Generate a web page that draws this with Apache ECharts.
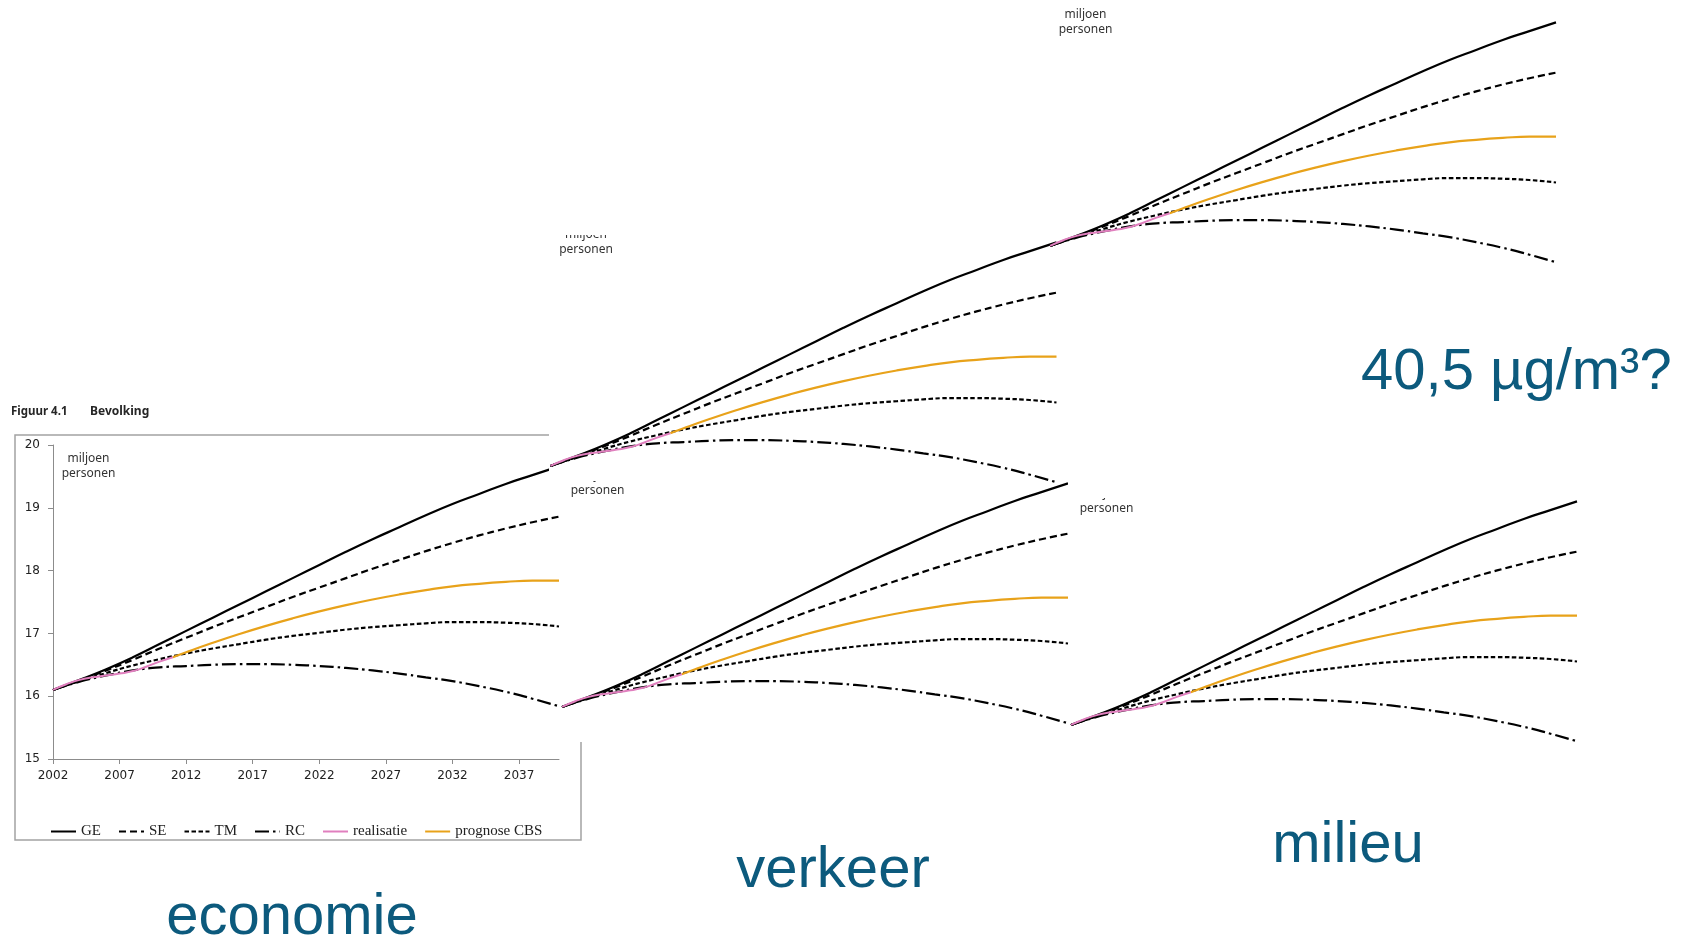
<!DOCTYPE html>
<html>
<head>
<meta charset="utf-8">
<script src="https://cdn.jsdelivr.net/npm/echarts@6/dist/echarts.min.js"></script>
<style>
  html, body { margin: 0; padding: 0; background: #fff; }
  #chart { width: 1689px; height: 939px; }
</style>
</head>
<body>
<div id="chart"></div>
<script>
// Bevolking: scenario's GE, SE, TM, RC plus realisatie en CBS-prognose (miljoen personen)
const scenarioYears = [2002, 2004, 2006, 2008, 2010, 2012, 2014, 2016, 2018, 2020,
                       2022, 2024, 2026, 2028, 2030, 2032, 2034, 2036, 2038, 2040];
const geValues = [16.10, 16.26, 16.43, 16.62, 16.83, 17.04, 17.25, 17.46, 17.67, 17.88,
                  18.09, 18.30, 18.50, 18.69, 18.88, 19.06, 19.22, 19.38, 19.52, 19.66];
const seValues = [16.10, 16.25, 16.41, 16.58, 16.76, 16.93, 17.10, 17.26, 17.42, 17.58,
                  17.73, 17.88, 18.03, 18.17, 18.31, 18.44, 18.56, 18.67, 18.77, 18.86];
const tmValues = [16.10, 16.24, 16.37, 16.49, 16.59, 16.68, 16.76, 16.83, 16.90, 16.96,
                  17.01, 17.06, 17.10, 17.13, 17.16, 17.18, 17.18, 17.17, 17.15, 17.11];
const rcValues = [16.10, 16.23, 16.33, 16.41, 16.46, 16.48, 16.50, 16.51, 16.51, 16.50,
                  16.48, 16.45, 16.41, 16.36, 16.30, 16.24, 16.16, 16.07, 15.96, 15.84];
const realisatieYears = [2002, 2003, 2004, 2005, 2006, 2007, 2008, 2009, 2010, 2011];
const realisatieValues = [16.10, 16.19, 16.26, 16.30, 16.33, 16.36, 16.40, 16.47, 16.55, 16.62];
const cbsYears = [2011, 2012, 2014, 2016, 2018, 2020, 2022, 2024, 2026, 2028,
                  2030, 2032, 2034, 2036, 2038, 2040];
const cbsValues = [16.62, 16.70, 16.85, 16.99, 17.12, 17.24, 17.35, 17.45, 17.54, 17.62,
                   17.69, 17.75, 17.79, 17.82, 17.84, 17.84];
const xTickYears = [2002, 2007, 2012, 2017, 2022, 2027, 2032, 2037];
const seriesNames = ['GE', 'SE', 'TM', 'RC', 'realisatie', 'prognose CBS'];
const unitLines = ['miljoen', 'personen'];
const figureNumber = 'Figuur 4.1';
const figureTitle = 'Bevolking';
const themeLabels = ['economie', 'verkeer', 'milieu'];
const airLabel = '40,5 µg/m³?';

const pair = (xs, ys) => xs.map((x, i) => [x, ys[i]]);

// plot-area size shared by the main figure and its pasted copies
const PW = 506, PH = 314;
// panels in stacking order: main figure first, then the copies
const panels = [
  { left: 53,   top: 445,   main: true, z: 3 },
  { left: 562,  top: 462,   z: 6,  bg: { x: 561,  y: 478, w: 506, h: 264, z: 5 } },
  { left: 550.5, top: 221,  z: 9,  bg: { x: 549,  y: 235, w: 513, h: 246, z: 8 },
    crop: { x: 549, y: 200, w: 91, h: 35, z: 10 } },
  { left: 1071, top: 480,   z: 12 },
  { left: 1050, top: 1,     z: 15, bg: { x: 1068, y: 0, w: 621, h: 498, z: 13 } }
];

const lineStyles = {
  'GE':           { color: '#000', width: 2.2, type: 'solid' },
  'SE':           { color: '#000', width: 2.2, type: [7, 4] },
  'TM':           { color: '#000', width: 2.2, type: [4.5, 2.5] },
  'RC':           { color: '#000', width: 2.2, type: [14, 4, 2.5, 4] },
  'realisatie':   { color: '#e07fbe', width: 2, type: 'solid' },
  'prognose CBS': { color: '#e8a21a', width: 2.2, type: 'solid' }
};
const seriesData = {
  'GE': pair(scenarioYears, geValues),
  'SE': pair(scenarioYears, seValues),
  'TM': pair(scenarioYears, tmValues),
  'RC': pair(scenarioYears, rcValues),
  'prognose CBS': pair(cbsYears, cbsValues),
  'realisatie': pair(realisatieYears, realisatieValues)
};
const drawOrder = ['GE', 'SE', 'TM', 'RC', 'prognose CBS', 'realisatie'];

const axisGrey = '#8c8c8c';
const grids = [], xAxes = [], yAxes = [], series = [], graphics = [];

panels.forEach((p, i) => {
  grids.push({ left: p.left, top: p.top, width: PW, height: PH });
  xAxes.push({
    gridIndex: i, type: 'value', min: 2002, max: 2040, show: !!p.main,
    axisLine: { show: true, lineStyle: { color: axisGrey, width: 1 } },
    axisTick: { show: true, length: 5, customValues: xTickYears, lineStyle: { color: axisGrey } },
    axisLabel: { customValues: xTickYears, formatter: v => String(v), margin: 11,
                 fontFamily: 'DejaVu Sans', fontSize: 12, color: '#222' },
    splitLine: { show: false }
  });
  yAxes.push({
    gridIndex: i, type: 'value', min: 15, max: 20, interval: 1, show: !!p.main,
    axisLine: { show: true, lineStyle: { color: axisGrey, width: 1 } },
    axisTick: { show: true, length: 5, lineStyle: { color: axisGrey } },
    axisLabel: { margin: 13, fontFamily: 'DejaVu Sans', fontSize: 12, color: '#222' },
    splitLine: { show: false }
  });
  drawOrder.forEach(name => {
    series.push({
      type: 'line', name, xAxisIndex: i, yAxisIndex: i, z: p.z,
      data: seriesData[name], smooth: true,
      symbol: 'none', showSymbol: false,
      lineStyle: Object.assign({ cap: 'butt' }, lineStyles[name]),
      itemStyle: { color: lineStyles[name].color },
      emphasis: { disabled: true }, silent: true
    });
  });
  if (p.bg) {
    graphics.push({ type: 'rect', z: p.bg.z, silent: true,
      shape: { x: p.bg.x, y: p.bg.y, width: p.bg.w, height: p.bg.h },
      style: { fill: '#fff' } });
  }
  unitLines.forEach((t, k) => {
    graphics.push({ type: 'text', z: p.z, silent: true,
      x: p.left + 35.5, y: p.top + 14 + k * 15,
      style: { text: t, fontFamily: 'Noto Sans', fontSize: 12, fill: '#333',
               align: 'center', verticalAlign: 'middle' } });
  });
  if (p.crop) {
    graphics.push({ type: 'rect', z: p.crop.z, silent: true,
      shape: { x: p.crop.x, y: p.crop.y, width: p.crop.w, height: p.crop.h },
      style: { fill: '#fff' } });
  }
});

// frame and heading of the main figure
graphics.push({ type: 'rect', z: 0, silent: true,
  shape: { x: 15, y: 435, width: 566, height: 405 },
  style: { fill: 'none', stroke: '#a3a3a3', lineWidth: 1.5 } });
graphics.push({ type: 'text', z: 1, x: 11, y: 412,
  style: { text: figureNumber, fontFamily: 'Noto Sans', fontSize: 11.5, fontWeight: 'bold',
           fill: '#262626', verticalAlign: 'middle' } });
graphics.push({ type: 'text', z: 1, x: 90, y: 412,
  style: { text: figureTitle, fontFamily: 'Noto Sans', fontSize: 12, fontWeight: 'bold',
           fill: '#262626', verticalAlign: 'middle' } });

// theme captions
const captionStyle = { fontFamily: 'Liberation Sans', fontSize: 58, fill: '#0c5a7d' };
[[themeLabels[0], 292, 918], [themeLabels[1], 833, 871], [themeLabels[2], 1348, 846]]
  .forEach(([t, x, y]) => {
    graphics.push({ type: 'text', z: 30, x, y,
      style: Object.assign({ text: t, align: 'center', verticalAlign: 'middle' }, captionStyle) });
  });
graphics.push({ type: 'text', z: 30, x: 1361, y: 373,
  style: Object.assign({ text: airLabel, align: 'left', verticalAlign: 'middle' }, captionStyle) });

const chart = echarts.init(document.getElementById('chart'), null, { renderer: 'canvas' });
chart.setOption({
  animation: false,
  backgroundColor: '#fff',
  grid: grids,
  xAxis: xAxes,
  yAxis: yAxes,
  legend: {
    data: seriesNames, left: 45, top: 819, itemWidth: 25, itemHeight: 14, itemGap: 17,
    selectedMode: false,
    itemStyle: { opacity: 0, borderWidth: 0 },
    textStyle: { fontFamily: 'Liberation Serif', fontSize: 15, color: '#222' }
  },
  series,
  graphic: { elements: graphics }
});
</script>
</body>
</html>
